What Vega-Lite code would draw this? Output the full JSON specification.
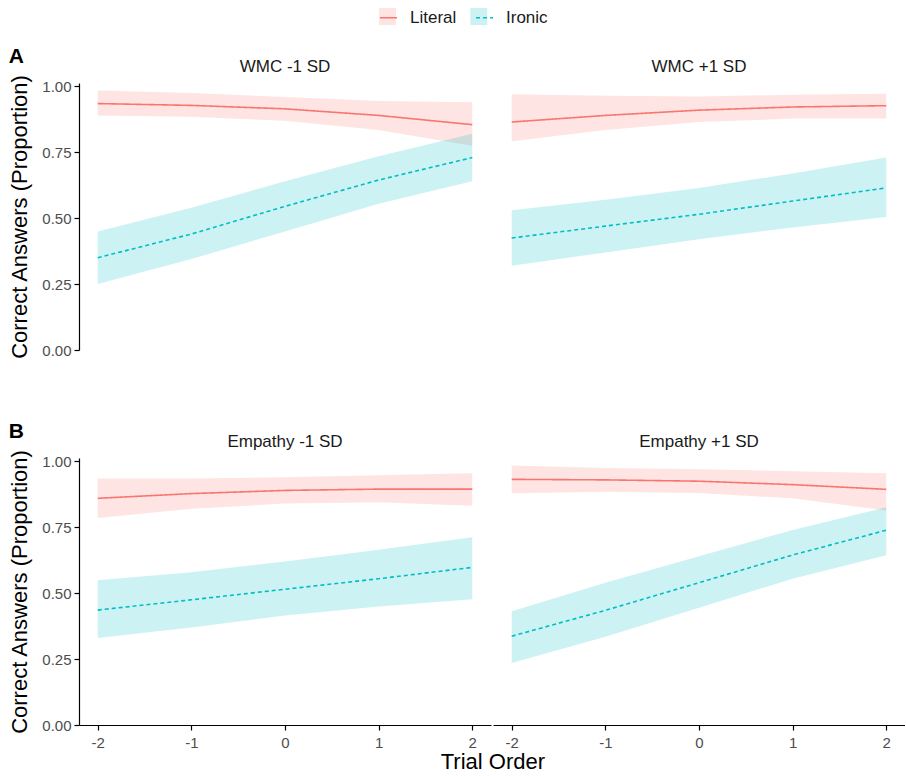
{
  "$schema": "https://vega.github.io/schema/vega-lite/v6.json",
  "padding": {"left": 8, "top": 8, "right": 0, "bottom": 2},
  "background": "white",
  "title": {"text": "Trial Order", "orient": "bottom", "anchor": "middle", "frame": "bounds", "fontSize": 22, "fontWeight": "normal", "color": "black", "offset": 2, "dx": 36},
  "datasets": {
    "fits": [
      {"row": "A", "panel": "WMC -1 SD", "type": "Literal", "trial": -2, "fit": 0.935, "lo": 0.89, "hi": 0.985},
      {"row": "A", "panel": "WMC -1 SD", "type": "Literal", "trial": -1, "fit": 0.928, "lo": 0.885, "hi": 0.975},
      {"row": "A", "panel": "WMC -1 SD", "type": "Literal", "trial": 0, "fit": 0.915, "lo": 0.87, "hi": 0.96},
      {"row": "A", "panel": "WMC -1 SD", "type": "Literal", "trial": 1, "fit": 0.89, "lo": 0.835, "hi": 0.945},
      {"row": "A", "panel": "WMC -1 SD", "type": "Literal", "trial": 2, "fit": 0.855, "lo": 0.775, "hi": 0.94},
      {"row": "A", "panel": "WMC -1 SD", "type": "Ironic", "trial": -2, "fit": 0.35, "lo": 0.25, "hi": 0.45},
      {"row": "A", "panel": "WMC -1 SD", "type": "Ironic", "trial": -1, "fit": 0.44, "lo": 0.345, "hi": 0.54},
      {"row": "A", "panel": "WMC -1 SD", "type": "Ironic", "trial": 0, "fit": 0.545, "lo": 0.45, "hi": 0.64},
      {"row": "A", "panel": "WMC -1 SD", "type": "Ironic", "trial": 1, "fit": 0.645, "lo": 0.555, "hi": 0.735},
      {"row": "A", "panel": "WMC -1 SD", "type": "Ironic", "trial": 2, "fit": 0.73, "lo": 0.64, "hi": 0.82},
      {"row": "A", "panel": "WMC +1 SD", "type": "Literal", "trial": -2, "fit": 0.865, "lo": 0.792, "hi": 0.97},
      {"row": "A", "panel": "WMC +1 SD", "type": "Literal", "trial": -1, "fit": 0.89, "lo": 0.835, "hi": 0.965},
      {"row": "A", "panel": "WMC +1 SD", "type": "Literal", "trial": 0, "fit": 0.91, "lo": 0.865, "hi": 0.962},
      {"row": "A", "panel": "WMC +1 SD", "type": "Literal", "trial": 1, "fit": 0.922, "lo": 0.878, "hi": 0.968},
      {"row": "A", "panel": "WMC +1 SD", "type": "Literal", "trial": 2, "fit": 0.927, "lo": 0.878, "hi": 0.972},
      {"row": "A", "panel": "WMC +1 SD", "type": "Ironic", "trial": -2, "fit": 0.425, "lo": 0.32, "hi": 0.53},
      {"row": "A", "panel": "WMC +1 SD", "type": "Ironic", "trial": -1, "fit": 0.47, "lo": 0.37, "hi": 0.57},
      {"row": "A", "panel": "WMC +1 SD", "type": "Ironic", "trial": 0, "fit": 0.515, "lo": 0.42, "hi": 0.615},
      {"row": "A", "panel": "WMC +1 SD", "type": "Ironic", "trial": 1, "fit": 0.565, "lo": 0.465, "hi": 0.67},
      {"row": "A", "panel": "WMC +1 SD", "type": "Ironic", "trial": 2, "fit": 0.615, "lo": 0.505, "hi": 0.73},
      {"row": "B", "panel": "Empathy -1 SD", "type": "Literal", "trial": -2, "fit": 0.86, "lo": 0.785, "hi": 0.935},
      {"row": "B", "panel": "Empathy -1 SD", "type": "Literal", "trial": -1, "fit": 0.878, "lo": 0.82, "hi": 0.935},
      {"row": "B", "panel": "Empathy -1 SD", "type": "Literal", "trial": 0, "fit": 0.89, "lo": 0.84, "hi": 0.94},
      {"row": "B", "panel": "Empathy -1 SD", "type": "Literal", "trial": 1, "fit": 0.895, "lo": 0.845, "hi": 0.948},
      {"row": "B", "panel": "Empathy -1 SD", "type": "Literal", "trial": 2, "fit": 0.895, "lo": 0.832, "hi": 0.955},
      {"row": "B", "panel": "Empathy -1 SD", "type": "Ironic", "trial": -2, "fit": 0.436, "lo": 0.33, "hi": 0.549},
      {"row": "B", "panel": "Empathy -1 SD", "type": "Ironic", "trial": -1, "fit": 0.475, "lo": 0.37, "hi": 0.58},
      {"row": "B", "panel": "Empathy -1 SD", "type": "Ironic", "trial": 0, "fit": 0.515, "lo": 0.415, "hi": 0.62},
      {"row": "B", "panel": "Empathy -1 SD", "type": "Ironic", "trial": 1, "fit": 0.555, "lo": 0.45, "hi": 0.665},
      {"row": "B", "panel": "Empathy -1 SD", "type": "Ironic", "trial": 2, "fit": 0.598, "lo": 0.477, "hi": 0.712},
      {"row": "B", "panel": "Empathy +1 SD", "type": "Literal", "trial": -2, "fit": 0.932, "lo": 0.879, "hi": 0.985},
      {"row": "B", "panel": "Empathy +1 SD", "type": "Literal", "trial": -1, "fit": 0.93, "lo": 0.885, "hi": 0.975},
      {"row": "B", "panel": "Empathy +1 SD", "type": "Literal", "trial": 0, "fit": 0.925, "lo": 0.88, "hi": 0.97},
      {"row": "B", "panel": "Empathy +1 SD", "type": "Literal", "trial": 1, "fit": 0.912, "lo": 0.86, "hi": 0.963},
      {"row": "B", "panel": "Empathy +1 SD", "type": "Literal", "trial": 2, "fit": 0.894, "lo": 0.814, "hi": 0.955},
      {"row": "B", "panel": "Empathy +1 SD", "type": "Ironic", "trial": -2, "fit": 0.337, "lo": 0.235, "hi": 0.432},
      {"row": "B", "panel": "Empathy +1 SD", "type": "Ironic", "trial": -1, "fit": 0.435, "lo": 0.335, "hi": 0.54},
      {"row": "B", "panel": "Empathy +1 SD", "type": "Ironic", "trial": 0, "fit": 0.54, "lo": 0.445, "hi": 0.64},
      {"row": "B", "panel": "Empathy +1 SD", "type": "Ironic", "trial": 1, "fit": 0.645, "lo": 0.555, "hi": 0.74},
      {"row": "B", "panel": "Empathy +1 SD", "type": "Ironic", "trial": 2, "fit": 0.739, "lo": 0.644, "hi": 0.826}
    ]
  },
  "spacing": 62,
  "vconcat": [
    {
      "title": {"text": "A", "anchor": "start", "frame": "bounds", "fontSize": 21, "fontWeight": "bold", "color": "black", "offset": -9},
      "data": {"name": "fits"},
      "transform": [{"filter": "datum.row === 'A'"}],
      "facet": {"column": {"field": "panel", "type": "nominal", "sort": ["WMC -1 SD", "WMC +1 SD"], "header": {"title": null}}},
      "spacing": 2,
      "spec": {
        "width": 412,
        "height": 267,
        "layer": [
          {
            "mark": {"type": "area", "opacity": 0.2},
            "encoding": {
              "x": {"field": "trial", "type": "quantitative", "scale": {"domain": [-2.2, 2.2], "nice": false, "zero": false}, "axis": null},
              "y": {"field": "lo", "type": "quantitative", "scale": {"domain": [0, 1.013], "nice": false}, "axis": {"values": [0, 0.25, 0.5, 0.75, 1], "format": ".2f", "title": "Correct Answers (Proportion)"}},
              "y2": {"field": "hi"},
              "fill": {"field": "type", "type": "nominal", "sort": ["Literal", "Ironic"], "scale": {"range": ["#F8766D", "#00BFC4"]},
                "legend": {"orient": "none", "legendX": 300, "legendY": -75, "direction": "horizontal", "title": null, "symbolType": "square", "symbolSize": 289, "symbolOpacity": 0.2, "symbolStrokeWidth": 0, "labelExpr": "''", "labelFontSize": 17, "labelOffset": 12, "columnPadding": 62.3}}
            }
          },
          {
            "mark": {"type": "line", "strokeWidth": 1.6},
            "encoding": {
              "x": {"field": "trial", "type": "quantitative"},
              "y": {"field": "fit", "type": "quantitative"},
              "stroke": {"field": "type", "type": "nominal", "scale": {"domain": ["Literal", "Ironic"], "range": ["#F8766D", "#00BFC4"]},
                "legend": {"orient": "none", "legendX": 300, "legendY": -75, "direction": "horizontal", "title": null, "symbolType": "stroke", "symbolSize": 289, "symbolStrokeWidth": 1.6, "labelFontSize": 17, "labelColor": "#1a1a1a", "labelOffset": 12, "columnPadding": 15}},
              "strokeDash": {"field": "type", "type": "nominal", "scale": {"domain": ["Literal", "Ironic"], "range": [[1, 0], [4, 3]]},
                "legend": {"orient": "none", "legendX": 300, "legendY": -75, "direction": "horizontal", "title": null, "symbolType": "stroke", "symbolSize": 289, "symbolStrokeWidth": 1.6, "labelFontSize": 17, "labelColor": "#1a1a1a", "labelOffset": 12, "columnPadding": 15}}
            }
          }
        ]
      }
    },
    {
      "title": {"text": "B", "anchor": "start", "frame": "bounds", "fontSize": 21, "fontWeight": "bold", "color": "black", "offset": -9},
      "data": {"name": "fits"},
      "transform": [{"filter": "datum.row === 'B'"}],
      "facet": {"column": {"field": "panel", "type": "nominal", "sort": ["Empathy -1 SD", "Empathy +1 SD"], "header": {"title": null}}},
      "spacing": 2,
      "spec": {
        "width": 412,
        "height": 267,
        "layer": [
          {
            "mark": {"type": "area", "opacity": 0.2},
            "encoding": {
              "x": {"field": "trial", "type": "quantitative", "scale": {"domain": [-2.2, 2.2], "nice": false, "zero": false}, "axis": {"values": [-2, -1, 0, 1, 2], "labelExpr": "'' + datum.value", "title": null, "labelPadding": 5}},
              "y": {"field": "lo", "type": "quantitative", "scale": {"domain": [0, 1.013], "nice": false}, "axis": {"values": [0, 0.25, 0.5, 0.75, 1], "format": ".2f", "title": "Correct Answers (Proportion)"}},
              "y2": {"field": "hi"},
              "fill": {"field": "type", "type": "nominal", "sort": ["Literal", "Ironic"], "scale": {"range": ["#F8766D", "#00BFC4"]},
                "legend": {"orient": "none", "legendX": 300, "legendY": -75, "direction": "horizontal", "title": null, "symbolType": "square", "symbolSize": 289, "symbolOpacity": 0.2, "symbolStrokeWidth": 0, "labelExpr": "''", "labelFontSize": 17, "labelOffset": 12, "columnPadding": 62.3}}
            }
          },
          {
            "mark": {"type": "line", "strokeWidth": 1.6},
            "encoding": {
              "x": {"field": "trial", "type": "quantitative"},
              "y": {"field": "fit", "type": "quantitative"},
              "stroke": {"field": "type", "type": "nominal", "scale": {"domain": ["Literal", "Ironic"], "range": ["#F8766D", "#00BFC4"]},
                "legend": {"orient": "none", "legendX": 300, "legendY": -75, "direction": "horizontal", "title": null, "symbolType": "stroke", "symbolSize": 289, "symbolStrokeWidth": 1.6, "labelFontSize": 17, "labelColor": "#1a1a1a", "labelOffset": 12, "columnPadding": 15}},
              "strokeDash": {"field": "type", "type": "nominal", "scale": {"domain": ["Literal", "Ironic"], "range": [[1, 0], [4, 3]]},
                "legend": {"orient": "none", "legendX": 300, "legendY": -75, "direction": "horizontal", "title": null, "symbolType": "stroke", "symbolSize": 289, "symbolStrokeWidth": 1.6, "labelFontSize": 17, "labelColor": "#1a1a1a", "labelOffset": 12, "columnPadding": 15}}
            }
          }
        ]
      }
    }
  ],
  "config": {
    "font": "Liberation Sans",
    "view": {"stroke": null},
    "axis": {
      "grid": false,
      "domainColor": "black",
      "domainWidth": 1.2,
      "tickColor": "black",
      "tickWidth": 1.2,
      "tickSize": 5,
      "labelFontSize": 15,
      "labelColor": "#4d4d4d",
      "labelPadding": 3,
      "titleFontSize": 22,
      "titleFontWeight": "normal",
      "titleColor": "black",
      "titlePadding": 10
    },
    "axisY": {"labelFlush": false},
    "header": {"labelFontSize": 17, "labelColor": "#1a1a1a", "labelPadding": -6, "labelBaseline": "alphabetic"},
    "legend": {"labelFont": "Liberation Sans"}
  }
}
